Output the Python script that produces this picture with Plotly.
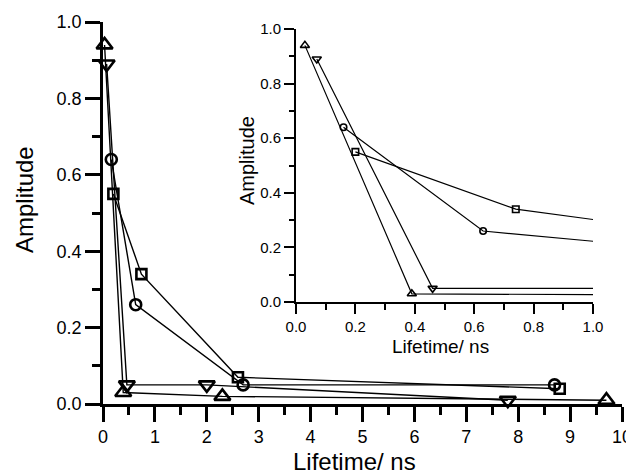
import plotly.graph_objects as go

# Data (lifetime in ns, amplitude)
tri_up_x = [0.03, 0.39, 2.3, 9.7]
tri_up_y = [0.94, 0.03, 0.02, 0.01]
tri_dn_x = [0.07, 0.46, 2.0, 7.8]
tri_dn_y = [0.89, 0.05, 0.05, 0.01]
circ_x = [0.16, 0.63, 2.7, 8.7]
circ_y = [0.64, 0.26, 0.05, 0.05]
sq_x = [0.2, 0.74, 2.6, 8.8]
sq_y = [0.55, 0.34, 0.07, 0.04]

series = [
    (tri_up_x, tri_up_y, "triangle-up-open", 14, 8),
    (tri_dn_x, tri_dn_y, "triangle-down-open", 14, 8),
    (circ_x, circ_y, "circle-open", 11, 6.5),
    (sq_x, sq_y, "square-open", 10, 6.5),
]

# page body has an 8px margin, so the figure fills the rest of the 634x474 window
OFF = 8
W, H = 634 - OFF, 474 - OFF
FONT = "Liberation Sans, Arial, sans-serif"

fig = go.Figure()

for xs, ys, sym, s_main, s_ins in series:
    fig.add_trace(go.Scatter(
        x=xs, y=ys, mode="lines+markers", xaxis="x", yaxis="y",
        line=dict(color="black", width=1.4),
        marker=dict(symbol=sym, size=s_main, color="black", line=dict(width=2.6, color="black")),
        cliponaxis=False, showlegend=False))

for xs, ys, sym, s_main, s_ins in series:
    fig.add_trace(go.Scatter(
        x=xs, y=ys, mode="lines+markers", xaxis="x2", yaxis="y2",
        line=dict(color="black", width=1.2),
        marker=dict(symbol=sym, size=s_ins, color="black", line=dict(width=1.6, color="black")),
        cliponaxis=True, showlegend=False))

def px_x(p):
    return (p - OFF) / W

def px_y(p):
    return (H - (p - OFF)) / H

main_ax = dict(showline=True, linecolor="black", linewidth=2.5, ticks="outside",
               tickwidth=2.5, ticklen=15, tickcolor="black", showgrid=False, zeroline=False,
               automargin=False,
               tickfont=dict(family=FONT, size=18, color="black"))
ins_ax = dict(showline=True, linecolor="black", linewidth=1.7, ticks="outside",
              tickwidth=1.7, ticklen=10, tickcolor="black", showgrid=False, zeroline=False,
              automargin=False,
              tickfont=dict(family=FONT, size=15, color="black"))

fig.update_layout(
    width=W, height=H,
    margin=dict(l=0, r=0, t=0, b=0),
    paper_bgcolor="white", plot_bgcolor="white",
    xaxis=dict(main_ax, domain=[px_x(103), px_x(622)], range=[0, 10], dtick=1, tick0=0,
               anchor="y",
               minor=dict(ticks="outside", ticklen=8, tickwidth=2.5, tickcolor="black", dtick=0.5, tick0=0, showgrid=False)),
    yaxis=dict(main_ax, domain=[px_y(404), px_y(22)], range=[0, 1], dtick=0.2, tick0=0,
               tickformat=".1f", anchor="x",
               minor=dict(ticks="outside", ticklen=8, tickwidth=2.5, tickcolor="black", dtick=0.1, tick0=0, showgrid=False)),
    xaxis2=dict(ins_ax, domain=[px_x(296), px_x(593)], range=[0, 1], dtick=0.2, tick0=0,
                tickformat=".1f", anchor="y2",
                minor=dict(ticks="outside", ticklen=6, tickwidth=1.7, tickcolor="black", dtick=0.1, tick0=0, showgrid=False)),
    yaxis2=dict(ins_ax, domain=[px_y(302), px_y(29)], range=[0, 1], dtick=0.2, tick0=0,
                tickformat=".1f", anchor="x2",
                minor=dict(ticks="outside", ticklen=5, tickwidth=1.7, tickcolor="black", dtick=0.1, tick0=0, showgrid=False)),
    annotations=[
        dict(text="Lifetime/ ns", xref="paper", yref="paper", x=px_x(354), y=px_y(461),
             xanchor="center", yanchor="middle", showarrow=False,
             font=dict(family=FONT, size=24, color="black")),
        dict(text="Amplitude", xref="paper", yref="paper", x=px_x(24), y=px_y(200),
             xanchor="center", yanchor="middle", showarrow=False, textangle=-90,
             font=dict(family=FONT, size=24, color="black")),
        dict(text="Lifetime/ ns", xref="paper", yref="paper", x=px_x(440), y=px_y(346),
             xanchor="center", yanchor="middle", showarrow=False,
             font=dict(family=FONT, size=19, color="black")),
        dict(text="Amplitude", xref="paper", yref="paper", x=px_x(247), y=px_y(161),
             xanchor="center", yanchor="middle", showarrow=False, textangle=-90,
             font=dict(family=FONT, size=20, color="black")),
    ],
)

fig.write_html("out.html")
